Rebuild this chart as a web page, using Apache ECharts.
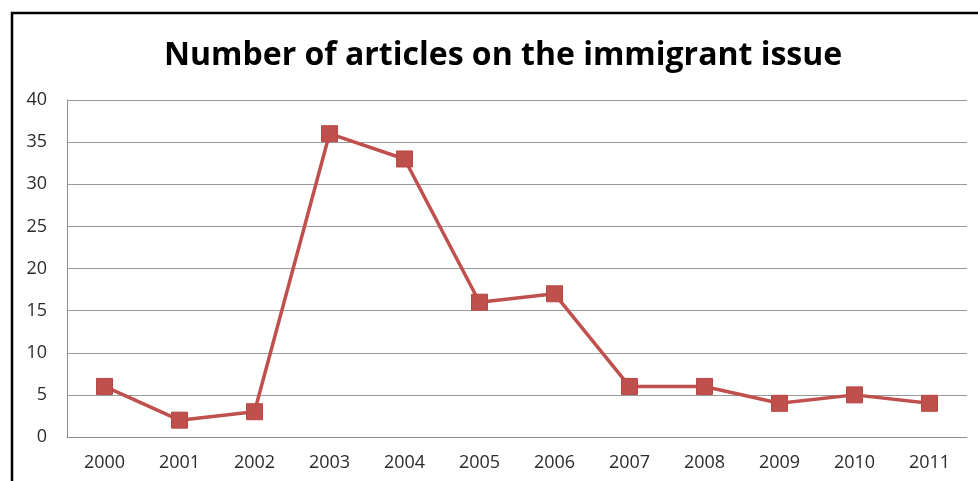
<!DOCTYPE html>
<html>
<head>
<meta charset="utf-8">
<script src="https://cdn.jsdelivr.net/npm/echarts@6/dist/echarts.min.js"></script>
<style>
  html, body { margin: 0; padding: 0; background: #fff; }
  #chart { width: 978px; height: 481px; }
</style>
</head>
<body>
<div id="chart"></div>
<script>
const years = ['2000', '2001', '2002', '2003', '2004', '2005', '2006', '2007', '2008', '2009', '2010', '2011'];
const articleCounts = [6, 2, 3, 36, 33, 16, 17, 6, 6, 4, 5, 4];
const yTicks = [0, 5, 10, 15, 20, 25, 30, 35, 40];

const chart = echarts.init(document.getElementById('chart'));
chart.setOption({
  backgroundColor: '#ffffff',
  animation: false,
  title: {
    text: 'Number of articles on the immigrant issue',
    left: 164,
    top: 40,
    padding: 0,
    textStyle: {
      fontFamily: 'Open Sans',
      fontWeight: 'bold',
      fontSize: 32,
      color: '#000000'
    }
  },
  graphic: [{
    type: 'rect',
    shape: { x: 12, y: 13, width: 1000, height: 520 },
    style: { fill: 'none', stroke: '#000000', lineWidth: 2.5 },
    silent: true
  }],
  grid: { left: 67, right: 11, top: 100, bottom: 44 },
  xAxis: {
    type: 'category',
    data: years,
    boundaryGap: true,
    axisLine: { show: true, lineStyle: { color: '#8c8c8c', width: 1 } },
    axisTick: { show: false },
    axisLabel: { color: '#2b2b2b', fontFamily: 'Open Sans', fontSize: 18, margin: 17 }
  },
  yAxis: {
    type: 'value',
    min: yTicks[0],
    max: yTicks[yTicks.length - 1],
    interval: 5,
    axisLine: { show: true, lineStyle: { color: '#8c8c8c', width: 1 } },
    axisTick: { show: false },
    splitLine: { lineStyle: { color: '#9a9a9a', width: 1 } },
    axisLabel: { color: '#2b2b2b', fontFamily: 'Open Sans', fontSize: 18, margin: 20 }
  },
  series: [{
    type: 'line',
    data: articleCounts,
    lineStyle: { color: '#C0504D', width: 3.5 },
    itemStyle: { color: '#C0504D', borderColor: '#B84743', borderWidth: 1 },
    symbol: 'rect',
    symbolSize: 16,
    z: 3
  }]
});
</script>
</body>
</html>
